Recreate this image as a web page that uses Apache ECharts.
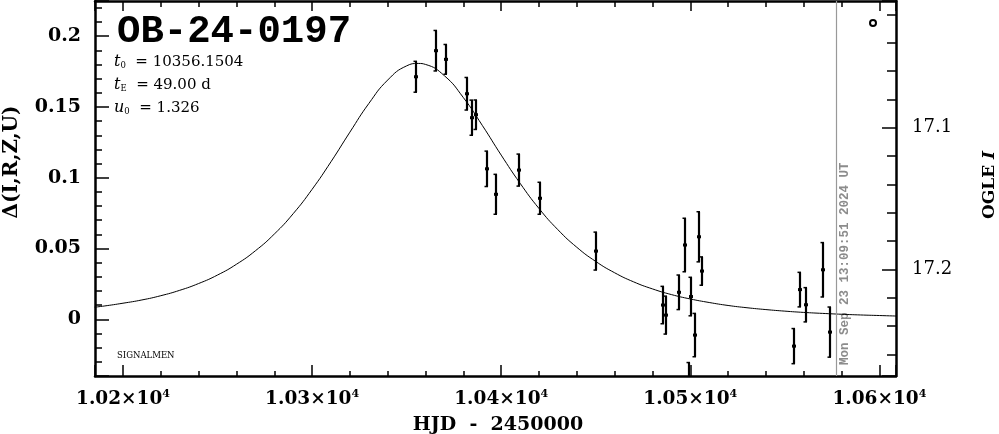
<!DOCTYPE html>
<html><head><meta charset="utf-8">
<script src="https://cdn.jsdelivr.net/npm/echarts@6/dist/echarts.min.js"></script>
<style>html,body{margin:0;padding:0;background:#fff}#c{width:999px;height:434px}</style>
</head><body><div id="c"></div>
<script>
// ---- data ----
const eventName = 'OB-24-0197';
const paramT0 = '10356.1504';
const paramTE = '49.00';
const paramU0 = '1.326';
const creditText = 'SIGNALMEN';
const nowHJD = 10577.05;
const nowLabel = 'Mon Sep 23 13:09:51 2024 UT';
const xName = 'HJD  -  2450000';
const yName = 'Δ(I,R,Z,U)';

// observed points (HJD-2450000, delta mag, error)
const hjd   = [10354.7,10365.6,10370.9,10381.8,10384.7,10386.8,10392.4,10397.5,10409.5,10420.6,10450.4,
               10485.4,10487.4,10494.2,10497.3,10499.5,10500.4,10502.5,10504.4,10506.2,
               10555.0,10558.0,10561.1,10570.0,10574.0];
const delta = [0.1713,0.1897,0.1836,0.1593,0.1424,0.1445,0.1063,0.0883,0.1054,0.0855,0.0482,
               0.0101,0.0030,0.0191,0.0525,-0.0460,0.0161,-0.0111,0.0583,0.0341,
               -0.0189,0.0210,0.0103,0.0350,-0.0090];
const err   = [0.0109,0.0143,0.0105,0.0115,0.0124,0.0104,0.0125,0.0141,0.0113,0.0113,0.0134,
               0.0132,0.0134,0.0122,0.0189,0.0155,0.0136,0.0153,0.0177,0.0100,
               0.0124,0.0122,0.0121,0.0192,0.0177];

// model curve
const modelT = [10185,10190,10200,10210,10220,10230,10240,10250,10260,10270,10280,10290,10300,10310,10320,10330,10340,10350,10356.15,
                10360,10370,10380,10390,10400,10410,10420,10430,10440,10450,10460,10470,10480,10490,10500,10510,10520,10530,10540,10550,10560,10570,10580,10590,10600,10610];
const modelD = [0.0086,0.0094,0.0114,0.0137,0.0167,0.0205,0.0253,0.0313,0.0389,0.0484,0.0602,0.0746,0.0918,0.1113,0.1322,0.1524,0.1690,0.1790,0.1807,
                0.1800,0.1720,0.1566,0.1370,0.1160,0.0961,0.0783,0.0633,0.0509,0.0409,0.0329,0.0265,0.0215,0.0175,0.0144,0.0119,0.0098,0.0082,0.0069,0.0058,0.0049,0.0042,0.0036,0.0031,0.0027,0.0023];

// axis ranges
const xMin = 10185.2, xMax = 10608.8;
const yMin = -0.04, yMax = 0.2248;
const baseMag = 17.2353;

// ---- chart ----
const chart = echarts.init(document.getElementById('c'), null, {renderer:'canvas'});
const serif = 'DejaVu Serif';
const frame = {show:true, onZero:false, lineStyle:{color:'#000', width:2.5}};
const tickStyle = {color:'#000', width:1.5};

const option = {
  animation:false,
  backgroundColor:'#fff',
  grid:{left:95, right:103, top:1, bottom:58, containLabel:false},
  xAxis:[
    {type:'value', position:'bottom', min:xMin, max:xMax, splitNumber:5,
     axisLine:frame, splitLine:{show:false},
     axisTick:{show:true, inside:true, length:11, lineStyle:tickStyle},
     minorTick:{show:true, splitNumber:5, length:5, lineStyle:tickStyle},
     axisLabel:{show:true, margin:13, showMinLabel:false, showMaxLabel:false,
       formatter:v => '{m|' + (v/10000).toFixed(2) + '×10}{s|4}',
       rich:{m:{fontFamily:serif, fontWeight:'bold', fontSize:18.5, color:'#000'},
             s:{fontFamily:serif, fontWeight:'bold', fontSize:11, color:'#000', padding:[0,0,9,0]}}}},
    {type:'value', position:'top', min:xMin, max:xMax, splitNumber:5,
     axisLine:frame, splitLine:{show:false},
     axisTick:{show:true, inside:true, length:10, lineStyle:tickStyle},
     minorTick:{show:true, splitNumber:5, length:6, lineStyle:tickStyle},
     axisLabel:{show:false}}
  ],
  yAxis:[
    {type:'value', position:'left', min:yMin, max:yMax, splitNumber:5,
     axisLine:frame, splitLine:{show:false},
     axisTick:{show:true, inside:true, length:14, lineStyle:tickStyle},
     minorTick:{show:true, splitNumber:5, length:7, lineStyle:tickStyle},
     axisLabel:{show:true, margin:14, showMinLabel:false, showMaxLabel:false,
       fontFamily:serif, fontWeight:'bold', fontSize:19, color:'#000'}},
    {type:'value', position:'right', inverse:true, min:+(baseMag-yMax).toFixed(4), max:+(baseMag-yMin).toFixed(4), splitNumber:2,
     axisLine:frame, splitLine:{show:false},
     axisTick:{show:true, inside:true, length:14, lineStyle:tickStyle},
     minorTick:{show:true, splitNumber:5, length:9, lineStyle:tickStyle},
     axisLabel:{show:true, margin:16, showMinLabel:false, showMaxLabel:false,
       fontFamily:serif, fontSize:18, color:'#000', formatter:v => v.toFixed(1)}}
  ],
  series:[
    {type:'line', xAxisIndex:0, yAxisIndex:0, data:modelT.map((t,i)=>[t, modelD[i]]),
     showSymbol:false, smooth:true, clip:true, lineStyle:{color:'#000', width:1},
     markLine:{silent:true, symbol:['none','none'], label:{show:false},
       lineStyle:{color:'#999', width:1.2, type:'solid'}, data:[{xAxis:nowHJD}]}},
    {type:'custom', xAxisIndex:0, yAxisIndex:0, clip:true,
     data:hjd.map((t,i)=>[t, delta[i], err[i]]),
     renderItem:(params, api) => {
       const x = api.value(0), y = api.value(1), e = api.value(2);
       const p = api.coord([x, y]);
       const tp = api.coord([x, y + e]);
       const bt = api.coord([x, y - e]);
       const cx = Math.round(p[0]) ;
       return {type:'group', children:[
         {type:'line', shape:{x1:cx, y1:tp[1], x2:cx, y2:bt[1]}, style:{stroke:'#000', lineWidth:2.2}},
         {type:'line', shape:{x1:cx-2.5, y1:tp[1], x2:cx+1, y2:tp[1]}, style:{stroke:'#000', lineWidth:1.5}},
         {type:'line', shape:{x1:cx-2.5, y1:bt[1], x2:cx+1, y2:bt[1]}, style:{stroke:'#000', lineWidth:1.5}},
         {type:'rect', shape:{x:cx-2, y:p[1]-1.5, width:4, height:3}, style:{fill:'#000'}}
       ]};
     }}
  ],
  graphic:[
    {type:'text', left:117, top:13, style:{text:eventName, fontFamily:'Liberation Mono', fontWeight:'bold', fontSize:39, fill:'#000'}},
    {type:'text', x:114, y:62, style:{text:'{i|t}{s|0}{n|  = ' + paramT0 + '}', verticalAlign:'middle',
      rich:{i:{fontFamily:serif, fontStyle:'italic', fontSize:16, fill:'#000'}, s:{fontFamily:serif, fontSize:8.5, padding:[8,0,0,0]}, n:{fontFamily:serif, fontSize:15, fill:'#000'}}}},
    {type:'text', x:114, y:85, style:{text:'{i|t}{s|E}{n|  = ' + paramTE + ' d}', verticalAlign:'middle',
      rich:{i:{fontFamily:serif, fontStyle:'italic', fontSize:16, fill:'#000'}, s:{fontFamily:serif, fontSize:8.5, padding:[8,0,0,0]}, n:{fontFamily:serif, fontSize:15, fill:'#000'}}}},
    {type:'text', x:114, y:108, style:{text:'{i|u}{s|0}{n|  = ' + paramU0 + '}', verticalAlign:'middle',
      rich:{i:{fontFamily:serif, fontStyle:'italic', fontSize:16, fill:'#000'}, s:{fontFamily:serif, fontSize:8.5, padding:[8,0,0,0]}, n:{fontFamily:serif, fontSize:15, fill:'#000'}}}},
    {type:'text', x:117, y:356, style:{text:creditText, fontFamily:serif, fontSize:8.5, fill:'#000', verticalAlign:'middle'}},
    {type:'text', x:12, y:162, rotation:Math.PI/2, style:{text:yName, fontFamily:serif, fontWeight:'bold', fontSize:20, fill:'#000', align:'center', verticalAlign:'middle'}},
    {type:'text', x:990, y:185, rotation:Math.PI/2, style:{text:'{a|OGLE }{b|I}', align:'center', verticalAlign:'middle',
      rich:{a:{fontFamily:serif, fontWeight:'bold', fontSize:17, fill:'#000'}, b:{fontFamily:serif, fontWeight:'bold', fontStyle:'italic', fontSize:17, fill:'#000'}}}},
    {type:'text', x:498, y:425, style:{text:xName, fontFamily:serif, fontWeight:'bold', fontSize:19, fill:'#000', align:'center', verticalAlign:'middle'}},
    {type:'text', x:845, y:365, rotation:Math.PI/2, style:{text:nowLabel, fontFamily:'Liberation Mono', fontWeight:'bold', fontSize:12.5, fill:'#8c8c8c', align:'left', verticalAlign:'middle'}},
    {type:'circle', shape:{cx:873, cy:23, r:3}, style:{fill:'none', stroke:'#000', lineWidth:2}}
  ]
};
chart.setOption(option);
</script></body></html>
